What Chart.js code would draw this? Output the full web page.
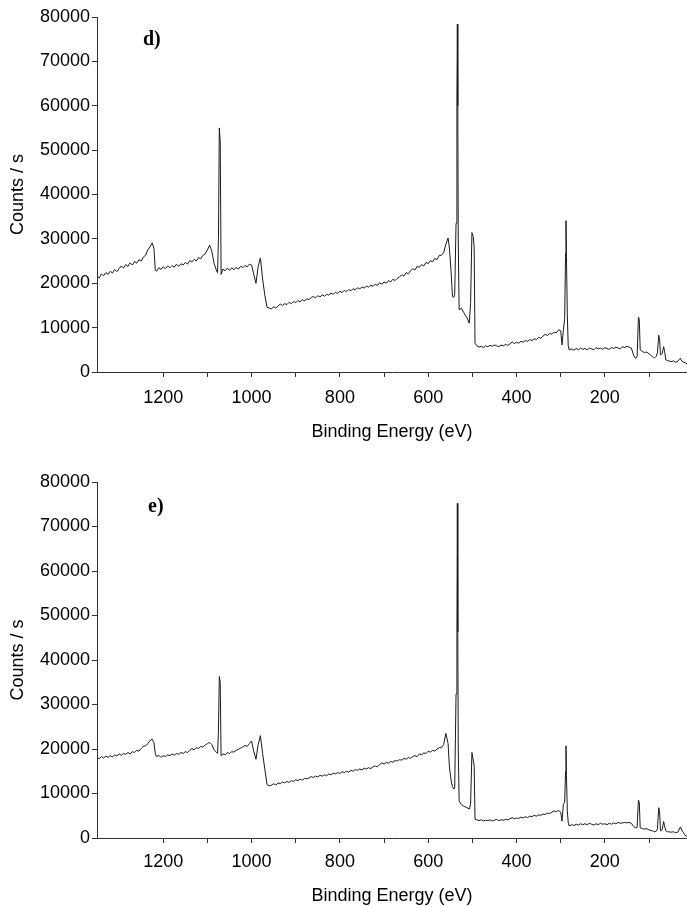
<!DOCTYPE html>
<html lang="en">

<head>
  <meta charset="UTF-8">
  <title>XPS survey spectra d) e)</title>
  <script src="https://cdn.jsdelivr.net/npm/chart.js"></script>
  <style>
    body { margin: 0; background: #fff; }
    .painel { position: relative; width: 687px; }
    .grafico { position: relative; width: 687px; }
    .letra {
      position: absolute;
      font-family: "Liberation Serif", "DejaVu Serif", serif;
      font-weight: bold;
      font-size: 20px;
      color: #000;
    }
  </style>
</head>

<body>
  <div class="painel">
    <div class="grafico" style="height:450px">
      <canvas id="graficoD" width="687" height="450"></canvas>
      <div class="letra" style="left:143px; top:27px;">d)</div>
    </div>
    <div class="grafico" style="height:457px">
      <canvas id="graficoE" width="687" height="457"></canvas>
      <div class="letra" style="left:148px; top:44px;">e)</div>
    </div>
  </div>

<script>
  // binding energy (eV), same scan grid for both spectra
  const energia = [
    1350,1345,1340,1335,1330,1325,1320,1315,1310,1305,
    1300,1295,1290,1285,1280,1275,1270,1265,1260,1255,
    1250,1245,1240,1235,1230,1225,1221,1218,1215,1210,
    1205,1200,1195,1190,1185,1180,1175,1170,1165,1160,
    1155,1150,1145,1140,1135,1130,1125,1120,1115,1110,
    1105,1100,1095,1090,1085,1080,1077,1075,1073,1071,
    1069,1065,1060,1055,1050,1045,1040,1035,1030,1025,
    1020,1015,1010,1005,1000,995,990,985,980,975,
    970,965,960,955,950,945,940,935,930,925,
    920,915,910,905,900,895,890,885,880,875,
    870,865,860,855,850,845,840,835,830,825,
    820,815,810,805,800,795,790,785,780,775,
    770,765,760,755,750,745,740,735,730,725,
    720,715,710,705,700,695,690,685,680,675,
    670,665,660,655,650,645,640,635,630,625,
    620,615,610,605,600,595,590,585,580,575,
    570,565,560,555,552,548,545,542,540,537,
    535,534,533,532,530,525,520,516,512,507,
    504,501,498,496,494,490,485,480,475,470,
    465,460,455,450,445,440,435,430,425,420,
    415,410,405,400,395,390,385,380,375,370,
    365,360,355,350,345,340,335,330,325,320,
    315,310,305,300,297,294,291,289,288,287,
    285,283,281,275,270,265,260,255,250,245,
    240,235,230,225,220,215,210,205,200,195,
    190,185,180,175,170,165,160,155,150,145,
    140,135,131,127,124,122,120,115,110,105,
    100,95,90,88,84,81,78,76,74,70,
    67,65,62,58,55,50,45,40,35,31,
    29,26,22,17,14
  ];

  // counts / s, spectrum d)
  const contagensD = [
    21600,21200,22100,21700,22400,22000,22700,22300,23100,22600,
    23300,23900,23400,24200,23800,24600,24100,24900,24500,25300,
    25000,25900,26300,27500,28200,29100,27800,23000,22700,23500,
    23100,23700,23300,23900,23500,24000,23600,24300,23800,24400,
    24100,24700,24300,25100,24800,25400,25000,25800,25500,26300,
    26600,27500,28600,27200,24500,23000,22400,30000,55000,52000,
    22000,23200,22800,23400,22900,23500,23000,23600,23200,23800,
    23500,24000,23700,24300,24100,22000,20000,23800,25700,21000,
    17300,14600,14400,14200,14700,14400,14900,15300,15000,15400,
    15200,15700,15400,15900,15600,16100,15800,16300,16000,16500,
    16300,16800,17000,16700,17200,16900,17400,17100,17500,17300,
    17800,17500,18000,17700,18200,17900,18400,18100,18600,18300,
    18800,18500,19000,18700,19200,18900,19400,19100,19600,19300,
    19800,19500,20100,19800,20300,20000,20600,20300,20900,20600,
    21100,21400,21900,21600,22400,22100,22800,23300,23000,23800,
    23600,24200,23900,24700,24400,25100,24800,25600,25300,26300,
    26300,26900,28800,30200,27900,22300,17000,16800,17500,33500,
    62000,78400,60000,30000,14000,14400,13500,12800,12200,11000,
    15500,31400,30500,28200,6500,5900,5600,5800,5500,5900,
    5700,6000,5800,6100,5900,5700,6100,5900,6200,6000,
    6300,6800,6400,6700,6500,6900,6700,7100,6900,7300,
    7100,7500,7300,7800,7600,8100,8500,8200,8700,8500,
    9000,8800,9500,9300,6100,9500,12000,26800,34100,26000,
    12800,6000,5000,5200,4900,5300,5000,5400,5100,5300,
    5000,5400,5200,5000,5500,5200,5400,5100,5500,5300,
    5100,5500,5300,5600,5400,5200,5700,5500,5800,5600,
    5400,3800,3100,3400,12400,11800,5000,4600,4400,4500,
    4100,3700,3300,3100,3500,4300,8300,7200,3800,4200,
    5700,4900,2700,2600,2500,2300,2500,2200,2400,2900,
    3100,2500,2200,2000,1800
  ];

  // counts / s, spectrum e)
  const contagensE = [
    18100,17800,18300,18000,18400,18100,18500,18200,18700,18400,
    18900,18600,19000,18800,19200,18900,19400,19200,19700,19500,
    20100,20600,20700,21200,21900,22200,21400,18900,18300,18600,
    18100,18500,18300,18700,18500,18900,18600,19000,18800,19200,
    19000,19400,19200,19700,20100,19800,20300,20100,20600,20400,
    20900,21200,21500,21000,19800,19300,19000,24000,36300,35000,
    18500,18900,18700,19200,19000,19400,19300,19700,19900,20200,
    20400,20800,20600,21200,21800,19500,17700,21000,23000,19000,
    15500,12000,11700,11900,12200,11900,12400,12200,12600,12400,
    12700,12500,12900,12700,13100,12900,13200,13000,13400,13300,
    13500,13800,13600,13900,13700,14100,13900,14200,14000,14400,
    14200,14600,14400,14700,14500,14900,14700,15000,14800,15200,
    15000,15400,15200,15500,15300,15700,15500,15800,15600,16000,
    16200,16000,16500,16900,16600,17000,16800,17200,17000,17400,
    17300,17600,17500,17900,17700,18100,17900,18300,18500,18300,
    18900,18700,19100,19000,19500,19300,19700,19500,20000,20300,
    20300,21000,23500,21200,16000,12800,11500,11000,11200,32400,
    46000,75200,46300,20000,8300,7500,7200,7000,6800,6500,
    7600,19200,17500,16200,4200,4100,3900,4100,3800,4000,
    3900,4100,3800,4000,4200,3900,4100,4000,4200,4100,
    4300,4600,4300,4500,4400,4700,4500,4800,4600,4900,
    4800,5100,4900,5200,5100,5400,5300,5600,5500,5800,
    6100,5900,6200,5800,3800,7600,8000,15000,20700,14000,
    6100,3500,2700,3000,2800,3100,2900,3200,3000,3200,
    3000,3300,3100,2900,3200,3000,3300,3100,3200,3000,
    3300,3100,3400,3200,3500,3300,3400,3500,3400,3500,
    3300,2600,2300,2400,8500,8000,2300,2100,2000,2100,
    1800,1700,1500,1400,1500,2000,6800,5800,1600,1900,
    3700,2800,1600,1400,1400,1300,1400,1200,1300,2000,
    2500,1800,1200,450,400
  ];

  // axis ranges and labelled ticks
  const eixoXmin = 14;
  const eixoXmax = 1350;
  const rotulosX = [1200, 1000, 800, 600, 400, 200];
  const eixoYmax = 80000;
  const rotulosY = [0, 10000, 20000, 30000, 40000, 50000, 60000, 70000, 80000];

  const fonte = { family: '"Liberation Sans", Arial, sans-serif', size: 18 };
  const corEixo = '#333';

  if (energia.length !== contagensD.length || energia.length !== contagensE.length) {
    console.log('tamanhos diferentes:', energia.length, contagensD.length, contagensE.length);
  }

  function montarGrafico(idCanvas, contagens, cfg) {
    const pontos = [];
    for (let i = 0; i < energia.length; i++) {
      pontos.push({ x: energia[i], y: contagens[i] });
    }

    return new Chart(document.getElementById(idCanvas), {
      type: 'line',
      data: {
        datasets: [{
          data: pontos,
          borderColor: '#1a1a1a',
          borderWidth: 1,
          pointRadius: 0,
          tension: 0,
          fill: false
        }]
      },
      options: {
        responsive: false,
        animation: false,
        layout: { padding: { top: cfg.topo, right: 0, bottom: 0, left: 0 } },
        plugins: { legend: { display: false }, tooltip: { enabled: false } },
        scales: {
          x: {
            type: 'linear',
            reverse: true,
            min: eixoXmin,
            max: eixoXmax,
            afterFit: function (scale) { scale.height = cfg.alturaX; },
            afterBuildTicks: function (scale) {
              scale.ticks = scale.ticks.filter(t => t.value % 100 === 0);
            },
            grid: { drawOnChartArea: false, color: corEixo, tickLength: 5 },
            border: { display: true, color: corEixo, width: 1 },
            ticks: {
              stepSize: 100,
              autoSkip: false,
              maxRotation: 0,
              padding: cfg.padX,
              color: '#000',
              font: fonte,
              callback: function (v) { return rotulosX.includes(v) ? String(v) : ''; }
            },
            title: {
              display: true,
              text: 'Binding Energy (eV)',
              color: '#000',
              font: fonte,
              padding: { top: 0, bottom: cfg.padTitulo }
            }
          },
          y: {
            min: 0,
            max: eixoYmax,
            afterFit: function (scale) { scale.width = 97; },
            grid: { drawOnChartArea: false, color: corEixo, tickLength: 5 },
            border: { display: true, color: corEixo, width: 1 },
            ticks: {
              stepSize: 5000,
              padding: 2,
              color: '#000',
              font: fonte,
              callback: function (v) { return rotulosY.includes(v) ? String(v) : ''; }
            },
            title: {
              display: true,
              text: 'Counts / s',
              color: '#000',
              font: fonte,
              padding: { top: 7, bottom: 0 }
            }
          }
        }
      }
    });
  }

  montarGrafico('graficoD', contagensD, { topo: 17, alturaX: 78, padX: 10, padTitulo: 7 });
  montarGrafico('graficoE', contagensE, { topo: 32, alturaX: 69, padX: 8, padTitulo: 0 });
</script>
</body>

</html>
